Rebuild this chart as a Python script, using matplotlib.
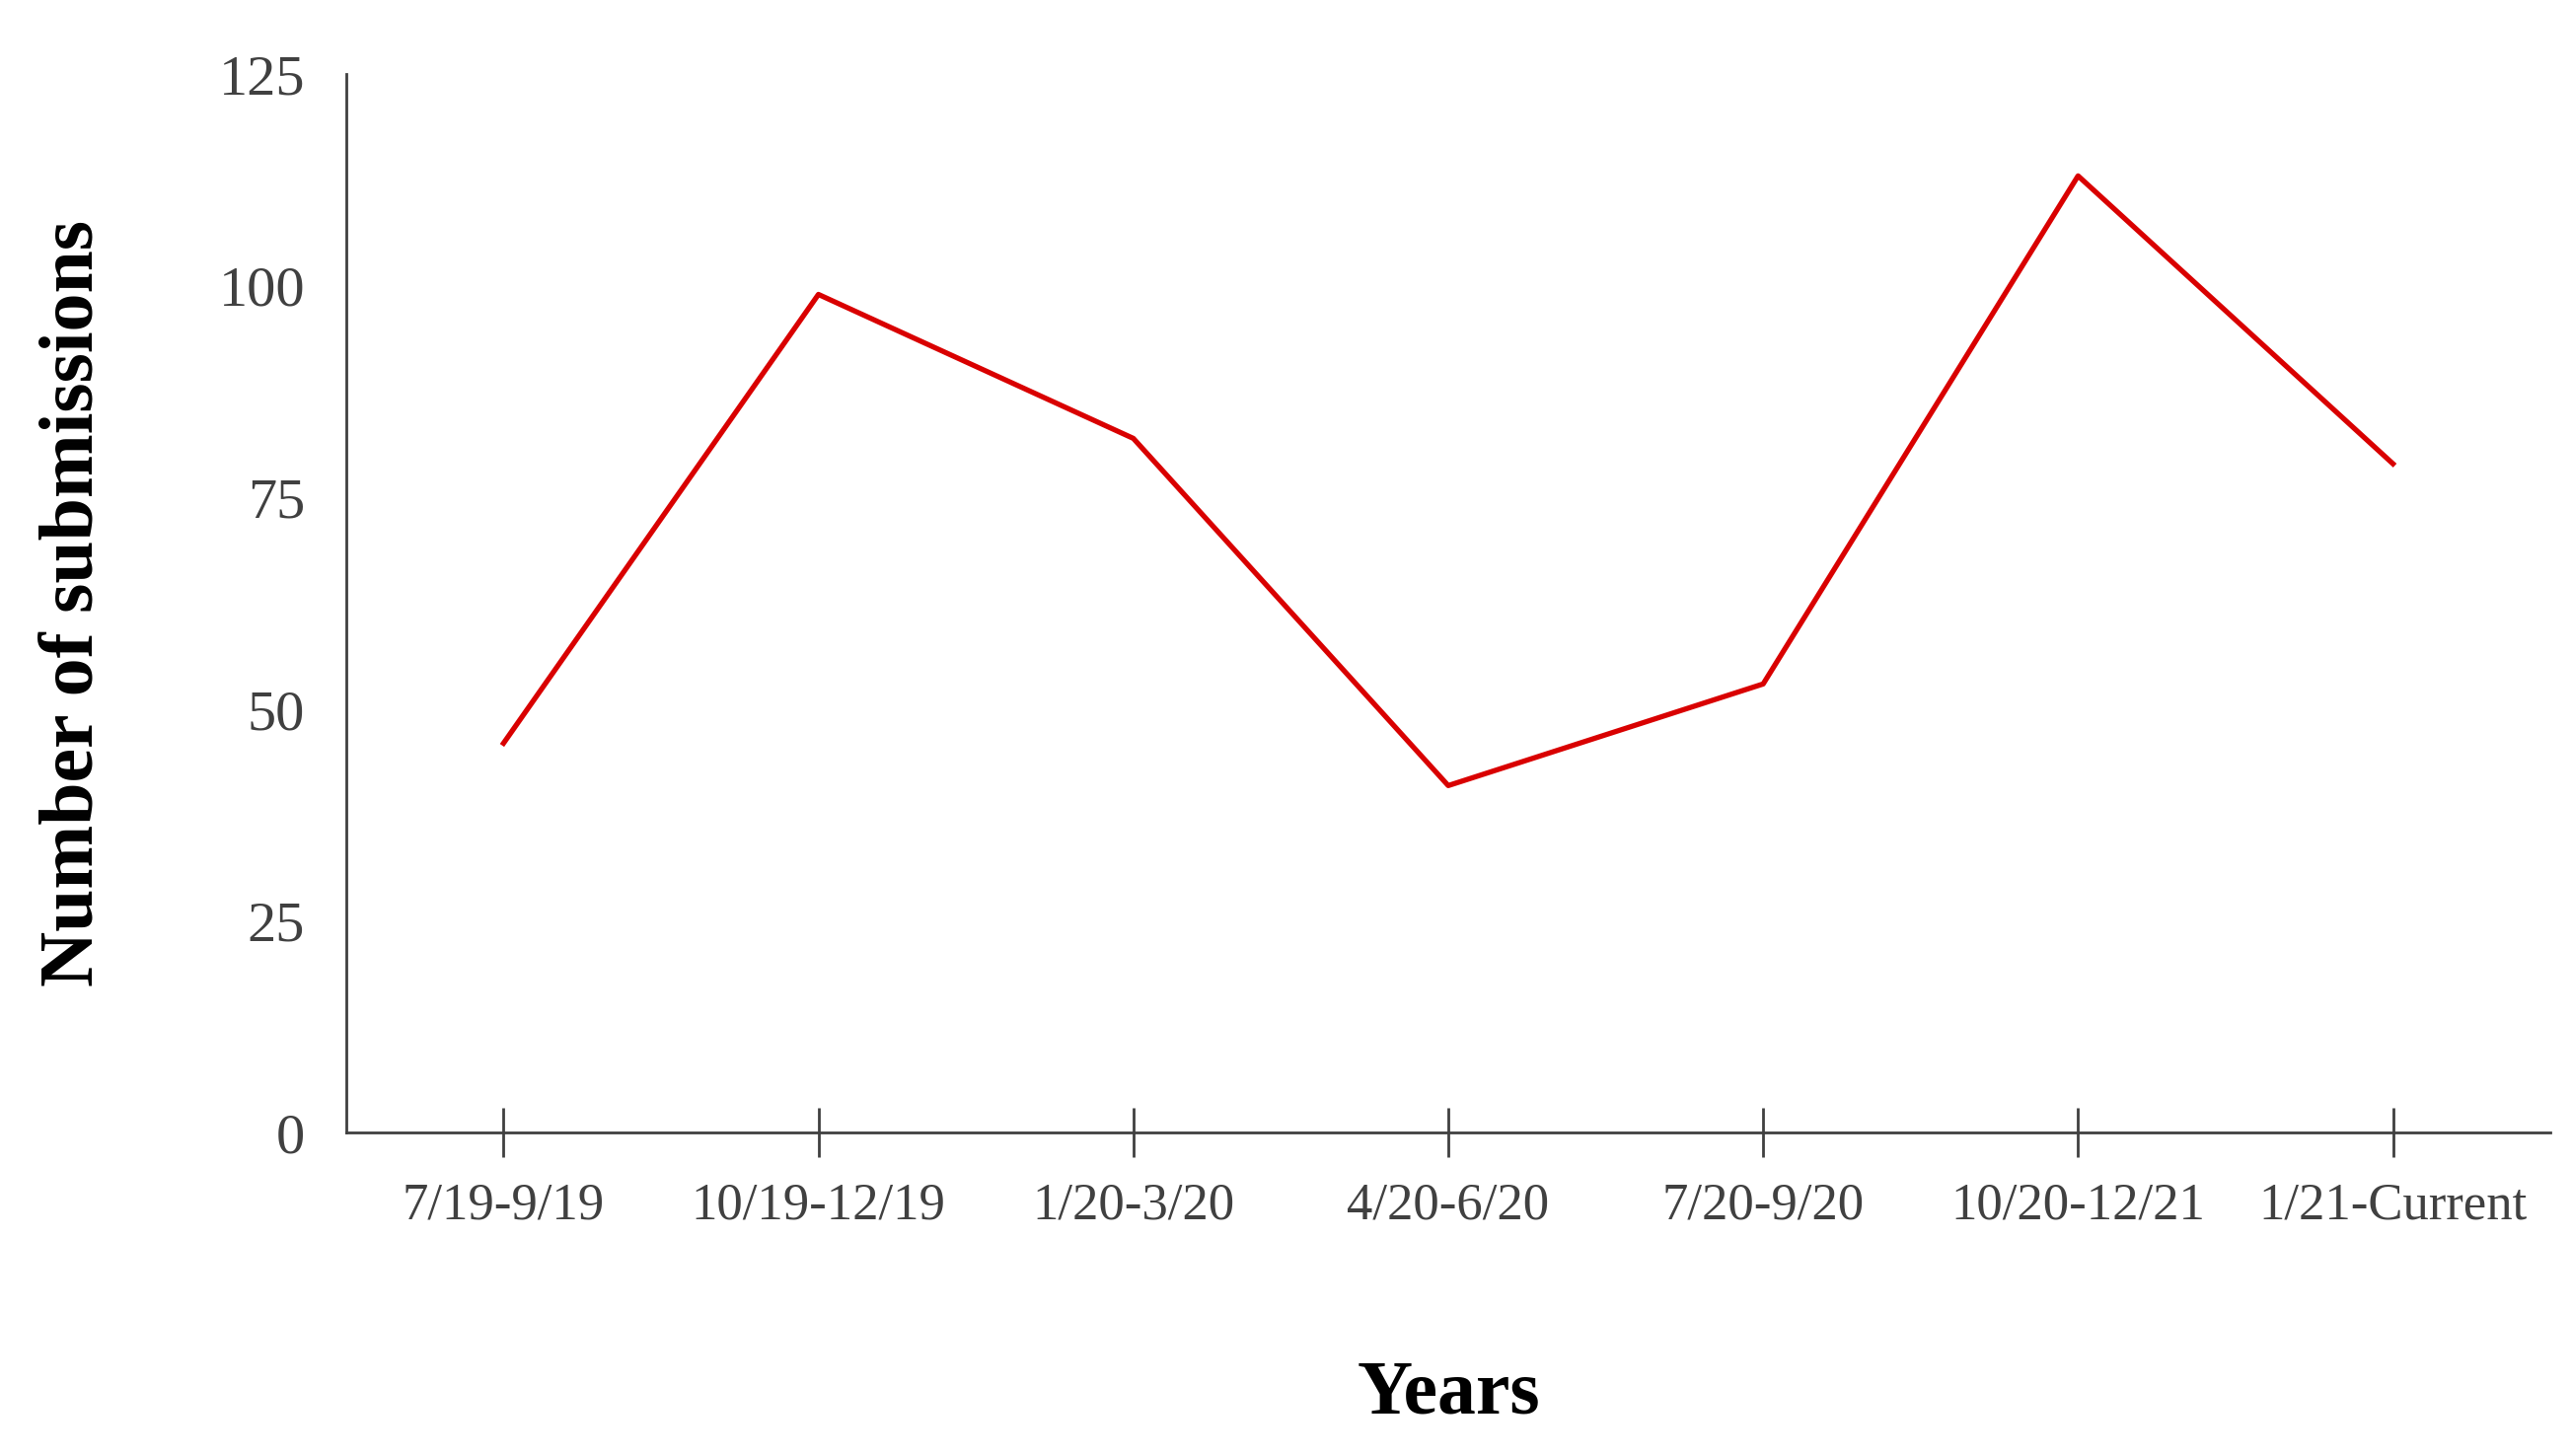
import matplotlib.pyplot as plt

periods = ['7/19-9/19', '10/19-12/19', '1/20-3/20', '4/20-6/20',
           '7/20-9/20', '10/20-12/21', '1/21-Current']
submissions = [46, 99, 82, 41, 53, 113, 79]

plt.rcParams['font.family'] = ['Liberation Serif', 'DejaVu Serif']

fig = plt.figure(figsize=(26.06, 14.76), dpi=100)
ax = fig.add_axes([0.1346, 0.222, 0.8574, 0.727])
x = list(range(len(periods)))
ax.plot(x, submissions, color='#D90000', linewidth=3.8)

ax.set_xlim(-0.5, len(periods) - 0.5)
ax.set_ylim(0, 125)
ax.set_yticks([0, 25, 50, 75, 100, 125])
ax.set_xticks(x)
ax.set_xticklabels(periods)
ax.tick_params(axis='x', direction='inout', length=36, width=2,
               labelsize=38, colors='#404040', pad=18)
ax.tick_params(axis='y', length=0, labelsize=42, colors='#404040', pad=30)
for s in ['top', 'right']:
    ax.spines[s].set_visible(False)
for s in ['left', 'bottom']:
    ax.spines[s].set_linewidth(2)
    ax.spines[s].set_color('#404040')

ax.set_xlabel('Years', fontsize=56, fontweight='bold', labelpad=95)
ax.set_ylabel('Number of submissions', fontsize=56, fontweight='bold', labelpad=80)

fig.savefig('out.png', dpi=100)
